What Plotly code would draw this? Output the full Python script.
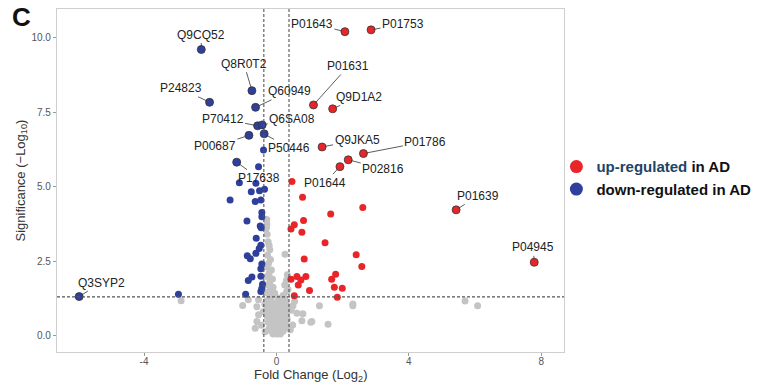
import plotly.graph_objects as go

# ---------------- data ----------------
fc_cut = 0.38
p_cut = 1.301

gray_x = [-0.30, -0.28, -0.25, -0.22, -0.20, -0.27, -0.18, -0.24, -0.30, -0.15, -0.22, -0.28, -0.12, -0.20, -0.26,
          -0.10, -0.18, -0.30, -0.05, -0.14, -0.29, -0.29,
          0.26, 0.33, 0.30, 0.35, 0.31, 0.25, 0.20,
          -0.22, 0.05, 0.25, -0.30, -0.15, 0.10, 0.28, -0.35, -0.20, -0.05, 0.15, 0.30,
          -0.25, -0.10, 0.05, 0.20, 0.35, -0.30, -0.18, 0.00, 0.12, 0.25, -0.22, -0.08, 0.08, 0.18, 0.30,
          -0.28, -0.15, 0.02, 0.15, 0.27, -0.20, -0.05, 0.10, 0.22, 0.33, -0.25, -0.12, 0.00, 0.12, 0.25,
          -0.18, -0.05, 0.08, 0.20, 0.30, -0.22, -0.10, 0.02, 0.15, 0.26, -0.15, -0.03, 0.10, 0.20,
          -0.10, 0.02, 0.12,
          -0.85, -0.54, -0.59, -0.54, -0.59, -0.64, -0.34, -1.02, 0.62, 0.80, 0.77, 1.07, 1.30, 1.56, 1.04,
          0.49, 2.31, 2.31, 5.70, 6.08, -2.88, 0.50, 0.45, 0.55, -0.40, -0.45, 0.42]
gray_y = [3.62, 3.40, 3.15, 3.02, 2.88, 2.70, 2.55, 2.42, 2.30, 2.20, 2.10, 1.98, 1.90, 1.80, 1.70,
          1.62, 1.55, 1.45, 1.42, 1.35, 3.74, 3.90,
          2.73, 2.04, 1.85, 1.55, 1.48, 1.70, 1.35,
          1.25, 1.25, 1.25, 1.15, 1.15, 1.15, 1.15, 1.05, 1.05, 1.05, 1.05, 1.05,
          0.95, 0.95, 0.95, 0.95, 0.95, 0.85, 0.85, 0.85, 0.85, 0.85, 0.75, 0.75, 0.75, 0.75, 0.75,
          0.65, 0.65, 0.65, 0.65, 0.65, 0.55, 0.55, 0.55, 0.55, 0.55, 0.45, 0.45, 0.45, 0.45, 0.45,
          0.35, 0.35, 0.35, 0.35, 0.35, 0.25, 0.25, 0.25, 0.25, 0.25, 0.15, 0.15, 0.15, 0.15,
          0.05, 0.05, 0.05,
          1.20, 1.20, 0.97, 0.70, 0.47, 0.25, 0.13, 1.01, 0.75, 0.73, 0.50, 0.47, 1.00, 0.38, 0.45,
          0.36, 1.06, 1.00, 1.16, 1.00, 1.17, 1.00, 0.85, 1.15, 0.80, 0.35, 0.20]

down_x = [-0.39, -0.54, -1.12, -0.62, -0.36, -0.76, -0.51, -1.40, -0.64, -0.47, -0.44, -0.44, -0.89, -0.49,
          -0.46, -0.61, -0.47, -0.52, -0.88, -0.62, -0.79, -0.44, -0.47, -0.74, -0.47, -0.85, -0.42, -0.44,
          -0.93, -0.47, -2.96]
down_y = [6.23, 5.67, 5.13, 5.11, 4.91, 4.83, 4.86, 4.55, 4.50, 4.55, 4.13, 3.99, 3.85, 3.68,
          3.62, 3.27, 3.03, 2.92, 2.68, 2.76, 2.58, 2.40, 2.24, 1.97, 1.99, 1.85, 1.72, 1.59,
          1.39, 1.48, 1.39]

up_x = [0.47, 0.79, 1.64, 2.61, 0.82, 0.54, 0.44, 0.77, 1.47, 2.41, 0.84, 2.58, 0.62, 0.44, 0.74, 0.89,
        0.66, 1.79, 1.67, 1.00, 1.75, 1.99, 0.54, 1.84]
up_y = [5.17, 4.64, 4.08, 4.30, 3.86, 3.72, 3.58, 3.47, 3.12, 2.71, 2.57, 2.32, 1.98, 1.89, 1.87, 1.98,
        1.70, 2.06, 1.89, 1.51, 1.62, 1.59, 1.34, 1.29]

down_lab = ["Q9CQ52", "Q8R0T2", "P24823", "Q60949", "P70412", "Q6SA08", "P00687", "P50446", "P17638", "Q3SYP2"]
down_lab_x = [-2.27, -0.74, -2.02, -0.63, -0.57, -0.43, -0.83, -0.37, -1.20, -5.96]
down_lab_y = [9.60, 8.22, 7.83, 7.66, 7.04, 7.07, 6.72, 6.77, 5.82, 1.31]

up_lab = ["P01643", "P01753", "P01631", "Q9D1A2", "Q9JKA5", "P01786", "P02816", "P01644", "P01639", "P04945"]
up_lab_x = [2.07, 2.86, 1.12, 1.70, 1.38, 2.63, 2.17, 1.92, 5.43, 7.79]
up_lab_y = [10.20, 10.26, 7.74, 7.61, 6.33, 6.11, 5.90, 5.67, 4.22, 2.46]

x_ticks = [-4, 0, 4, 8]
y_ticks = [0, 2.5, 5, 7.5, 10]

# ---------------- styles ----------------
GRAY = "#c4c4c4"
BLUE = "#2f3f9c"
RED = "#e8262a"
FONT = "Liberation Sans, Arial"

# label text offsets (pixels) from the point
offsets = {
    "Q9CQ52": (0, -15), "Q8R0T2": (-8, -27), "P24823": (-29, -14), "Q60949": (34, -16),
    "P70412": (-35, -7), "Q6SA08": (30, -6), "P00687": (-34, 11), "P50446": (25, 14),
    "P17638": (22, 16), "Q3SYP2": (22, -14),
    "P01643": (-33, -8), "P01753": (32, -6), "P01631": (35, -39), "Q9D1A2": (26, -12),
    "Q9JKA5": (35, -7), "P01786": (62, -12), "P02816": (35, 9), "P01644": (-15, 16),
    "P01639": (22, -14), "P04945": (-1, -15),
}

fig = go.Figure()
fig.add_trace(go.Scatter(x=gray_x, y=gray_y, mode="markers", showlegend=False, hoverinfo="skip",
                         marker=dict(color=GRAY, size=7, line=dict(width=0))))
fig.add_trace(go.Scatter(x=down_x, y=down_y, mode="markers", showlegend=False,
                         marker=dict(color=BLUE, size=7, line=dict(width=0))))
fig.add_trace(go.Scatter(x=up_x, y=up_y, mode="markers", showlegend=False,
                         marker=dict(color=RED, size=7, line=dict(width=0))))
fig.add_trace(go.Scatter(x=down_lab_x, y=down_lab_y, mode="markers", showlegend=False, text=down_lab,
                         marker=dict(color=BLUE, size=8, line=dict(width=0.8, color="#333333"))))
fig.add_trace(go.Scatter(x=up_lab_x, y=up_lab_y, mode="markers", showlegend=False, text=up_lab,
                         marker=dict(color=RED, size=8, line=dict(width=0.8, color="#333333"))))

# legend-only entries
fig.add_trace(go.Scatter(x=[None], y=[None], mode="markers",
                         name="<b><span style='color:#1d4466'>up-regulated</span> in AD</b>",
                         marker=dict(color=RED, size=13)))
fig.add_trace(go.Scatter(x=[None], y=[None], mode="markers",
                         name="<b>down-regulated in AD</b>",
                         marker=dict(color=BLUE, size=13)))

for names, xs, ys in [(down_lab, down_lab_x, down_lab_y), (up_lab, up_lab_x, up_lab_y)]:
    for n, xv, yv in zip(names, xs, ys):
        ax, ay = offsets[n]
        fig.add_annotation(x=xv, y=yv, text=n, showarrow=True, arrowhead=0, arrowwidth=0.8,
                           arrowcolor="#333333", ax=ax, ay=ay, standoff=3, startstandoff=0,
                           font=dict(size=12, color="#222222", family=FONT))

# threshold lines
fig.add_shape(type="line", xref="paper", yref="y", x0=0, x1=1, y0=p_cut, y1=p_cut,
              line=dict(color="#555555", width=1.1, dash="3px,2px"))
for v in (-fc_cut, fc_cut):
    fig.add_shape(type="line", xref="x", yref="paper", x0=v, x1=v, y0=0, y1=1,
                  line=dict(color="#555555", width=1.1, dash="3px,2px"))

# panel letter and axis titles
fig.add_annotation(xref="paper", yref="paper", x=-0.093, y=1.026, xanchor="left", yanchor="top",
                   text="<b>C</b>", showarrow=False,
                   font=dict(size=26, color="#111111", family=FONT))
fig.add_annotation(xref="paper", yref="paper", x=0.5, y=-0.068, xanchor="center", yanchor="middle",
                   text="Fold Change (Log<sub>2</sub>)", showarrow=False,
                   font=dict(size=13, color="#333333", family=FONT))
fig.add_annotation(xref="paper", yref="paper", x=-0.071, y=0.5, xanchor="center", yanchor="middle",
                   text="Significance (\u2212Log<sub>10</sub>)", showarrow=False, textangle=-90,
                   font=dict(size=13, color="#333333", family=FONT))

fig.update_layout(
    width=761, height=387,
    margin=dict(l=57, r=197, t=9, b=35, autoexpand=False),
    paper_bgcolor="white", plot_bgcolor="white",
    font=dict(family=FONT, color="#333333"),
    legend=dict(x=0.985, y=0.588, xanchor="left", yanchor="top",
                font=dict(size=15, color="#111111"), itemsizing="trace",
                tracegroupgap=0, bgcolor="rgba(0,0,0,0)"),
    xaxis=dict(range=[-6.63, 8.69], tickvals=x_ticks, ticktext=[str(t) for t in x_ticks],
               showgrid=False, zeroline=False, showline=True, mirror=True, linecolor="#cfcfcf",
               linewidth=1.2, ticks="outside", ticklen=3, tickcolor="#999999", automargin=False,
               ticklabelstandoff=-3,
               tickfont=dict(size=10, color="#555555")),
    yaxis=dict(range=[-0.55, 10.96], tickvals=y_ticks, ticktext=[f"{t:.1f}" for t in y_ticks],
               showgrid=False, zeroline=False, showline=True, mirror=True, linecolor="#cfcfcf",
               linewidth=1.2, ticks="outside", ticklen=3, tickcolor="#999999", automargin=False,
               tickfont=dict(size=10, color="#555555")),
)

fig.write_html("out.html", config={"displayModeBar": False},
               post_script="document.body.style.margin='0px';")
